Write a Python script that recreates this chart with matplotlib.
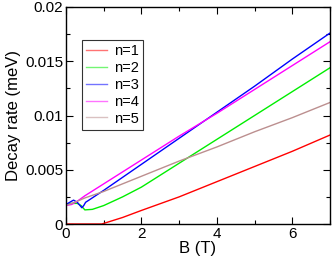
import numpy as np
import matplotlib.pyplot as plt
from matplotlib.ticker import MultipleLocator

plt.rcParams['font.family'] = ['Liberation Sans', 'DejaVu Sans']

# values (B in tesla, rate in meV)
b1 = [0, 0.5, 0.95, 1.5, 2, 3, 4, 5, 6, 7]
r1 = [0, 0, 0, 0.0006, 0.00125, 0.0025, 0.0039, 0.0053, 0.0067, 0.0082]

b2 = [0, 0.15, 0.3, 0.4, 0.5, 0.7, 1, 1.5, 2, 2.5, 3, 4, 5, 6, 7]
r2 = [0.0018, 0.0019, 0.0019, 0.0017, 0.0013, 0.00135, 0.0017, 0.0025, 0.0034, 0.0045, 0.0056, 0.0078, 0.01, 0.0122, 0.0144]

b3 = [0, 0.1, 0.2, 0.3, 0.42, 0.47, 0.52, 1, 2, 3, 4, 5, 6, 7]
r3 = [0.0018, 0.002, 0.0022, 0.002, 0.0015, 0.0017, 0.002, 0.0031, 0.0055, 0.0079, 0.0103, 0.0127, 0.0152, 0.0176]

b4 = [0, 0.15, 0.3, 0.5, 1, 2, 3, 4, 5, 6, 7]
r4 = [0.0017, 0.0018, 0.0021, 0.0026, 0.0037, 0.0059, 0.0081, 0.0102, 0.0124, 0.0146, 0.0168]

b5 = [0, 0.3, 0.5, 1, 2, 3, 4, 5, 6, 7]
r5 = [0.0017, 0.0021, 0.0024, 0.003, 0.0044, 0.0058, 0.0071, 0.0085, 0.0098, 0.0112]

series = [
    (b1, r1, 'n=1', '#ff0000'),
    (b2, r2, 'n=2', '#00ee00'),
    (b3, r3, 'n=3', '#0000ff'),
    (b4, r4, 'n=4', '#ff00ff'),
    (b5, r5, 'n=5', '#bc8f8f'),
]

fig = plt.figure(figsize=(3.32, 2.61), dpi=100)
ax = fig.add_axes([66 / 332, 1 - 224 / 261, (330 - 66) / 332, (224 - 7) / 261])

for b, r, lab, col in series:
    ax.plot(b, r, color=col, lw=1.0, label=lab)

ax.set_xlim(0, 7)
ax.set_ylim(0, 0.02)
ax.xaxis.set_major_locator(MultipleLocator(2))
ax.xaxis.set_minor_locator(MultipleLocator(1))
ax.yaxis.set_major_locator(MultipleLocator(0.005))
ax.yaxis.set_minor_locator(MultipleLocator(0.0025))
ax.set_xticks([0, 2, 4, 6])
ax.set_xticklabels(['0', '2', '4', '6'])
ax.set_yticks([0, 0.005, 0.01, 0.015, 0.02])
ax.set_yticklabels(['0', '0.005', '0.01', '0.015', '0.02'])
ax.tick_params(which='both', direction='in', top=True, right=True, labelsize=11, width=0.8, pad=2)
ax.tick_params(which='major', length=5)
ax.tick_params(which='minor', length=3)
for s in ax.spines.values():
    s.set_linewidth(1.0)

ax.set_xlabel('B (T)', fontsize=12, labelpad=0)
ax.set_ylabel('Decay rate (meV)', fontsize=12, labelpad=3)

leg = ax.legend(loc='upper left', bbox_to_anchor=(0.06, 0.85), fontsize=10.5, frameon=True,
                fancybox=False, edgecolor='black', handlelength=1.4, handletextpad=0.5,
                labelspacing=0.2, borderpad=0.3, borderaxespad=0)
leg.get_frame().set_linewidth(0.8)
for h in leg.get_lines():
    h.set_alpha(0.55)

fig.savefig('out.png', dpi=100)
